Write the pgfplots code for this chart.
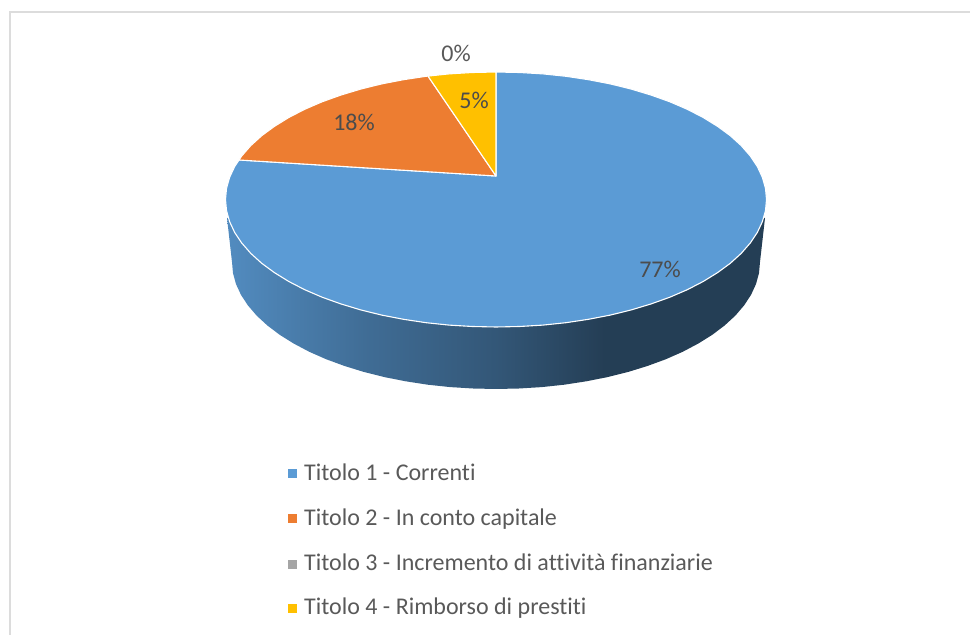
\documentclass[border=0pt]{standalone}
\usepackage{pgfplots}
\pgfplotsset{compat=1.18}
\usepackage{fontspec}
\setmainfont{Carlito}[Ligatures=NoCommon]
\definecolor{cblue}{HTML}{5B9BD5}
\definecolor{corange}{HTML}{ED7D31}
\definecolor{cgray}{HTML}{A5A5A5}
\definecolor{cyellow}{HTML}{FFC000}
\definecolor{ctext}{HTML}{595959}
\definecolor{cframe}{HTML}{DCDCDC}
\pgfdeclarehorizontalshading{wall}{100bp}{%
 color(0bp)=(cblue!90!black);
 color(25bp)=(cblue!90!black);
 color(38bp)=(cblue!70!black);
 color(50bp)=(cblue!56!black);
 color(60bp)=(cblue!40!black);
 color(75bp)=(cblue!40!black);
 color(100bp)=(cblue!40!black)}
\begin{document}
\begin{tikzpicture}
\begin{axis}[
  scale only axis, width=970pt, height=635pt,
  xmin=0, xmax=970, ymin=0, ymax=635,
  hide axis, clip=true,
  every axis plot/.append style={forget plot},
]
% frame
\addplot[cframe, line width=2.4pt, mark=none] coordinates {(10,0) (10,623) (970,623)};
% side wall
\addplot[draw=none, shading=wall, mark=none] coordinates {
(227,417) (232,373) (233,361.9) (236,350.9) (241,340.1) (247.9,329.6) (256.7,319.3) (267.4,309.5)
(279.7,300.2) (293.8,291.4) (309.3,283.2) (326.3,275.7) (344.6,269) (364,263) (384.4,257.9)
(405.7,253.7) (427.7,250.3) (450.2,247.9) (473,246.5) (496,246) (519,246.5) (541.8,247.9)
(564.3,250.3) (586.3,253.7) (607.6,257.9) (628,263) (647.4,269) (665.7,275.7) (682.7,283.2)
(698.2,291.4) (712.3,300.2) (724.6,309.5) (735.3,319.3) (744.1,329.6) (751,340.1) (756,350.9)
(759,361.9) (760,373) (765,417) (496,435)} -- cycle;
% Titolo 1 - 77%
\addplot[fill=cblue, draw=white, line width=1.1pt, line join=round, mark=none] coordinates {
(496,459) (496,563) (519.6,562.5) (543,561.1) (566,558.7) (588.5,555.3) (610.3,551.1) (631.3,545.9)
(651.2,539.9) (669.9,533.2) (687.3,525.7) (703.2,517.5) (717.6,508.6) (730.3,499.3) (741.2,489.4)
(750.2,479.1) (757.3,468.5) (762.4,457.6) (765.5,446.6) (766.5,435.5)
(765.5,424.4) (762.4,413.4) (757.3,402.5) (750.2,391.9) (741.2,381.6) (730.3,371.7) (717.6,362.4)
(703.2,353.5) (687.3,345.3) (669.9,337.8) (651.2,331.1) (631.3,325.1) (610.3,319.9) (588.5,315.7)
(566,312.3) (543,309.9) (519.6,308.5) (496,308)
(472.4,308.5) (449,309.9) (426,312.3) (403.5,315.7) (381.7,319.9) (360.7,325.1) (340.8,331.1)
(322.1,337.8) (304.7,345.3) (288.8,353.5) (274.4,362.4) (261.7,371.7) (250.8,381.6) (241.8,391.9)
(234.7,402.5) (229.6,413.4) (226.5,424.4) (225.5,435.5)
(226.5,446.6) (229.6,457.6) (234.7,468.5) (239,475)} -- cycle;
% Titolo 2 - 18%
\addplot[fill=corange, draw=white, line width=1.1pt, line join=round, mark=none] coordinates {
(496,459) (239,475) (241.8,479.1) (250.8,489.4) (261.7,499.3) (274.4,508.6) (288.8,517.5)
(304.7,525.7) (322.1,533.2) (340.8,539.9) (360.7,545.9) (381.7,551.1) (403.5,555.3) (426,558.7) (428,558.9)} -- cycle;
% Titolo 4 - 5%
\addplot[fill=cyellow, draw=white, line width=1.1pt, line join=round, mark=none] coordinates {
(496,459) (428,558.9) (449,561.1) (472.4,562.5) (496,563)} -- cycle;
% data labels
\begin{scope}[every node/.style={font=\fontsize{24}{28}\selectfont, text=ctext!85!black, inner sep=0pt}]
\node at (axis cs:660,366) {77\%};
\node at (axis cs:354,513) {18\%};
\node at (axis cs:474,535) {5\%};
\node[text=ctext] at (axis cs:456,582) {0\%};
\end{scope}
% legend keys
\addplot[only marks, color=cblue, mark=square*, mark size=3.8pt] coordinates {(292,162)};
\addplot[only marks, color=corange, mark=square*, mark size=3.8pt] coordinates {(292,117)};
\addplot[only marks, color=cgray, mark=square*, mark size=3.8pt] coordinates {(292,71)};
\addplot[only marks, color=cyellow, mark=square*, mark size=3.8pt] coordinates {(292,27)};
\begin{scope}[every node/.style={font=\fontsize{24}{28}\selectfont, text=ctext, inner sep=0pt, anchor=base west}]
\node at (axis cs:304,154) {Titolo 1 - Correnti};
\node at (axis cs:304,109) {Titolo 2 - In conto capitale};
\node at (axis cs:304,64) {Titolo 3 - Incremento di attività finanziarie};
\node at (axis cs:304,20) {Titolo 4 - Rimborso di prestiti};
\end{scope}
\end{axis}
\path[use as bounding box] (current axis.south west) rectangle (current axis.north east);
\end{tikzpicture}
\end{document}
